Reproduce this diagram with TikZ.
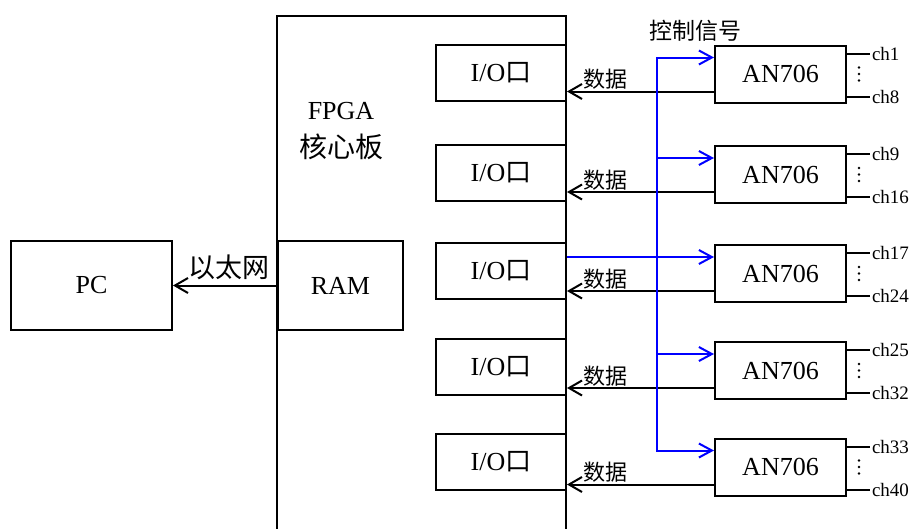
\documentclass[tikz,border=0pt]{standalone}
\usepackage{fontspec}
\setmainfont{Liberation Serif}
\newfontfamily\cjk{Noto Sans CJK SC}
\usetikzlibrary{arrows.meta}
\begin{document}
\begin{tikzpicture}[x=1pt,y=-1pt,
  box/.style={draw, line width=2pt, inner sep=0pt, font=\fontsize{26}{28}\selectfont},
  ln/.style={line width=2pt},
  arr/.style={ln, -{Straight Barb[length=13pt,width=15pt,line width=2pt]}},
  barr/.style={line width=2pt, blue, -{Straight Barb[length=13pt,width=14pt,line width=2pt]}},
  datalbl/.style={font=\cjk\fontsize{22}{24}\selectfont, inner sep=1pt, above},
  chlbl/.style={right, inner sep=1pt, font=\fontsize{19}{21}\selectfont},
  dotc/.style={fill=black}
]
\useasboundingbox (0,0) rectangle (913,528);
% FPGA board (open at the bottom)
\coordinate (fbl) at (277,530);
\coordinate (ftl) at (277,16);
\coordinate (ftr) at (566,16);
\coordinate (fbr) at (566,530);
\draw[ln] (fbl) -- (ftl) -- (ftr) -- (fbr);
\node[font=\fontsize{26}{28}\selectfont] (fpga) at (341,111) {FPGA};
\node[font=\cjk\fontsize{28}{30}\selectfont] (core) at (341,147) {核心板};
% PC and RAM
\node[box, minimum width=161pt, minimum height=89pt] (pc) at (91.5,285.5) {PC};
\node[box, minimum width=125pt, minimum height=89pt] (ram) at (340.5,285.5) {RAM};
\draw[arr] (ram.west) -- (pc.east);
\node[font=\cjk\fontsize{27}{30}\selectfont] (eth) at (229,267) {以太网};
% I/O boxes
\foreach \i/\y in {1/73,2/172.5,3/271,4/367,5/462}{
  \node[box, minimum width=130pt, minimum height=56pt] (io\i) at (501,\y) {I/O{\cjk 口}};
}
% AN706 boxes
\foreach \i/\y in {1/74,2/174.5,3/273.5,4/370.5,5/467}{
  \node[box, minimum width=131pt, minimum height=57pt] (an\i) at (780.5,\y) {AN706};
}
% data arrows
\foreach \i in {1,...,5}{
  \coordinate (d\i) at ([yshift=12pt]an\i.south west);
  \draw[arr] (d\i) -- node[datalbl, pos=0.74] (dl\i) {数据} (d\i -| io\i.east);
}
% control signal bus
\coordinate (bx) at (657,0);
\foreach \i in {1,...,5}{
  \coordinate (c\i) at ([yshift=-13pt]an\i.north west);
}
\draw[barr] (c5 -| bx) -- (c1 -| bx) -- (c1);
\draw[barr] (c1 -| bx) |- (c5);
\draw[barr] (c2 -| bx) -- (c2);
\draw[barr] (c3 -| io3.east) -- (c3);
\draw[barr] (c4 -| bx) -- (c4);
\node[font=\cjk\fontsize{23}{25}\selectfont] (ctl) at (695,31) {控制信号};
% channels
\foreach \i/\a/\b in {1/ch1/ch8,2/ch9/ch16,3/ch17/ch24,4/ch25/ch32,5/ch33/ch40}{
  \coordinate (t\i) at ([yshift=-9pt]an\i.north east);
  \coordinate (b\i) at ([yshift=7pt]an\i.south east);
  \draw[ln] (t\i) -- ++(23,0) node[chlbl] (ct\i) {\a};
  \draw[ln] (b\i) -- ++(23,0) node[chlbl] (cb\i) {\b};
  \coordinate (v\i) at ([xshift=12pt]an\i.east);
  \fill[dotc] (v\i) circle (1.4pt) ([yshift=6.5pt]v\i) circle (1.4pt) ([yshift=-6.5pt]v\i) circle (1.4pt);
}
\end{tikzpicture}
\end{document}
